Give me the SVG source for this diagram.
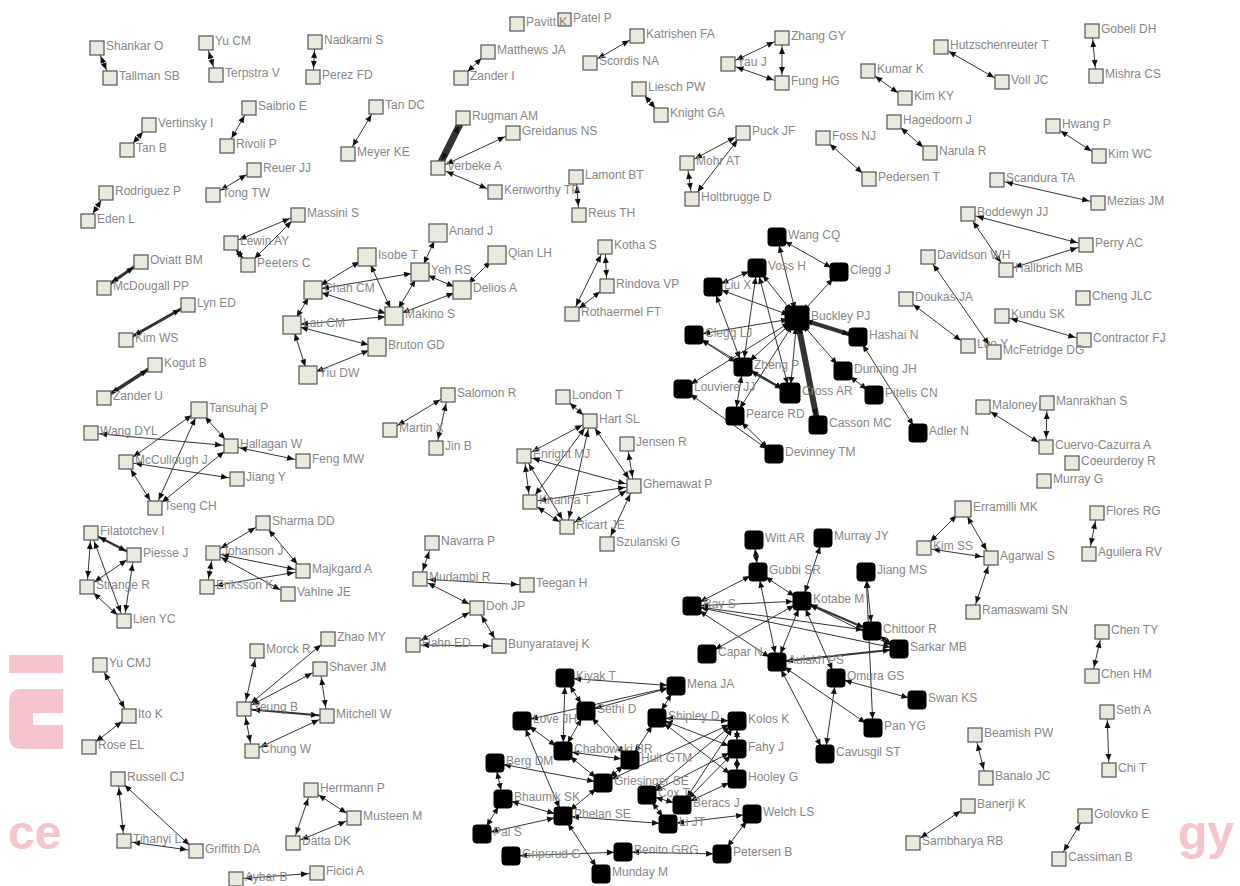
<svg xmlns="http://www.w3.org/2000/svg" width="1240" height="886" viewBox="0 0 1240 886">
<style>
.n rect{fill:#e9e9dd;stroke:#555;stroke-width:1.2}
.b rect{fill:#000;stroke:#000;stroke-width:1}
text{font-family:"Liberation Sans",Arial,sans-serif;font-size:12px;fill:#868686}
.e line{stroke:#333;stroke-width:1;marker-start:url(#ah);marker-end:url(#ah)}
.wm{fill:#f6c4cc}
.wt{font-family:"Liberation Sans",Arial,sans-serif;font-weight:bold;font-size:48px;fill:#f6c4cc}
</style>
<defs>
<marker id="ah" viewBox="0 0 20 8" refX="19" refY="4" markerWidth="20" markerHeight="8" markerUnits="userSpaceOnUse" orient="auto-start-reverse"><path d="M3,1 L10,4 L3,7 z" fill="#111"/></marker>
</defs>
<rect width="1240" height="886" fill="#fff"/>
<g id="watermark">
<rect class="wm" x="9" y="655" width="54" height="18"/>
<path class="wm" d="M63,689 H22 Q9,689 9,702 V736 Q9,749 22,749 H63 V725 H33 V713 H63 Z"/>
<text class="wt" x="8" y="849">ce</text>
<text class="wt" x="1178" y="849">gy</text>
</g>
<g id="connectors" class="e">
<line x1="97" y1="48" x2="110" y2="78" stroke-width="1.5"/>
<line x1="206" y1="43" x2="216" y2="75"/>
<line x1="315" y1="42" x2="313" y2="77"/>
<line x1="149" y1="125" x2="127" y2="150"/>
<line x1="249" y1="108" x2="227" y2="146"/>
<line x1="254" y1="170" x2="213" y2="195"/>
<line x1="106" y1="193" x2="88" y2="221"/>
<line x1="231" y1="243" x2="298" y2="215"/>
<line x1="231" y1="243" x2="248" y2="265" style="stroke-width:2"/>
<line x1="248" y1="265" x2="298" y2="215"/>
<line x1="141" y1="262" x2="104" y2="288" style="stroke-width:3"/>
<line x1="188" y1="305" x2="126" y2="340" style="stroke-width:3"/>
<line x1="155" y1="365" x2="104" y2="398" style="stroke-width:3.5"/>
<line x1="376" y1="107" x2="348" y2="154"/>
<line x1="488" y1="52" x2="461" y2="78"/>
<line x1="463" y1="118" x2="438" y2="168" style="stroke-width:7"/>
<line x1="438" y1="168" x2="513" y2="133"/>
<line x1="438" y1="168" x2="495" y2="192"/>
<line x1="576" y1="177" x2="579" y2="215"/>
<line x1="637" y1="36" x2="590" y2="63"/>
<line x1="639" y1="89" x2="661" y2="115"/>
<line x1="782" y1="38" x2="728" y2="64"/>
<line x1="782" y1="38" x2="782" y2="83"/>
<line x1="782" y1="83" x2="728" y2="64"/>
<line x1="743" y1="133" x2="687" y2="163"/>
<line x1="743" y1="133" x2="692" y2="199"/>
<line x1="687" y1="163" x2="692" y2="199"/>
<line x1="823" y1="138" x2="869" y2="179"/>
<line x1="868" y1="71" x2="905" y2="98"/>
<line x1="894" y1="122" x2="930" y2="153"/>
<line x1="941" y1="47" x2="1002" y2="82"/>
<line x1="1092" y1="31" x2="1096" y2="76"/>
<line x1="1053" y1="126" x2="1099" y2="156"/>
<line x1="997" y1="180" x2="1098" y2="203"/>
<line x1="968" y1="214" x2="1086" y2="245"/>
<line x1="1006" y1="270" x2="968" y2="214"/>
<line x1="1006" y1="270" x2="1086" y2="245"/>
<line x1="928" y1="257" x2="994" y2="352"/>
<line x1="906" y1="299" x2="968" y2="346"/>
<line x1="1002" y1="316" x2="1084" y2="340"/>
<line x1="983" y1="407" x2="1046" y2="447"/>
<line x1="1047" y1="403" x2="1046" y2="447"/>
<line x1="1097" y1="513" x2="1089" y2="554"/>
<line x1="963" y1="509" x2="924" y2="548"/>
<line x1="963" y1="509" x2="991" y2="558"/>
<line x1="924" y1="548" x2="991" y2="558"/>
<line x1="991" y1="558" x2="973" y2="612"/>
<line x1="1102" y1="632" x2="1092" y2="676"/>
<line x1="1107" y1="712" x2="1109" y2="770"/>
<line x1="975" y1="735" x2="986" y2="778"/>
<line x1="968" y1="806" x2="913" y2="843"/>
<line x1="1085" y1="816" x2="1059" y2="859"/>
<line x1="605" y1="247" x2="607" y2="286"/>
<line x1="605" y1="247" x2="572" y2="314"/>
<line x1="607" y1="286" x2="572" y2="314"/>
<line x1="448" y1="395" x2="390" y2="430"/>
<line x1="448" y1="395" x2="436" y2="448"/>
<line x1="100" y1="665" x2="129" y2="716"/>
<line x1="129" y1="716" x2="89" y2="747"/>
<line x1="118" y1="779" x2="124" y2="841"/>
<line x1="118" y1="779" x2="196" y2="851"/>
<line x1="124" y1="841" x2="196" y2="851"/>
<line x1="311" y1="790" x2="354" y2="818"/>
<line x1="311" y1="790" x2="293" y2="843"/>
<line x1="293" y1="843" x2="354" y2="818"/>
<line x1="236" y1="879" x2="317" y2="873"/>
<line x1="432" y1="543" x2="420" y2="579"/>
<line x1="420" y1="579" x2="527" y2="585"/>
<line x1="420" y1="579" x2="477" y2="608"/>
<line x1="477" y1="608" x2="413" y2="645"/>
<line x1="477" y1="608" x2="499" y2="646"/>
<line x1="413" y1="645" x2="499" y2="646"/>
<line x1="257" y1="651" x2="244" y2="709"/>
<line x1="244" y1="709" x2="328" y2="639"/>
<line x1="244" y1="709" x2="320" y2="669"/>
<line x1="244" y1="709" x2="327" y2="716" style="stroke-width:2"/>
<line x1="252" y1="751" x2="244" y2="709"/>
<line x1="252" y1="751" x2="327" y2="716"/>
<line x1="320" y1="669" x2="327" y2="716"/>
<line x1="91" y1="533" x2="134" y2="555" style="stroke-width:2.5"/>
<line x1="91" y1="533" x2="87" y2="587"/>
<line x1="91" y1="533" x2="124" y2="621"/>
<line x1="87" y1="587" x2="134" y2="555"/>
<line x1="87" y1="587" x2="124" y2="621"/>
<line x1="134" y1="555" x2="124" y2="621"/>
<line x1="263" y1="523" x2="213" y2="553"/>
<line x1="263" y1="523" x2="303" y2="571"/>
<line x1="213" y1="553" x2="303" y2="571"/>
<line x1="213" y1="553" x2="207" y2="587"/>
<line x1="207" y1="587" x2="303" y2="571"/>
<line x1="288" y1="594" x2="213" y2="553"/>
<line x1="199" y1="410" x2="126" y2="462"/>
<line x1="199" y1="410" x2="231" y2="446"/>
<line x1="199" y1="410" x2="155" y2="508"/>
<line x1="91" y1="433" x2="231" y2="446"/>
<line x1="126" y1="462" x2="155" y2="508"/>
<line x1="126" y1="462" x2="237" y2="479"/>
<line x1="231" y1="446" x2="303" y2="461"/>
<line x1="155" y1="508" x2="231" y2="446"/>
<line x1="313" y1="290" x2="367" y2="257"/>
<line x1="313" y1="290" x2="394" y2="316"/>
<line x1="313" y1="290" x2="420" y2="272"/>
<line x1="313" y1="290" x2="292" y2="325"/>
<line x1="367" y1="257" x2="394" y2="316"/>
<line x1="438" y1="233" x2="420" y2="272"/>
<line x1="420" y1="272" x2="394" y2="316"/>
<line x1="462" y1="290" x2="497" y2="255"/>
<line x1="462" y1="290" x2="420" y2="272"/>
<line x1="462" y1="290" x2="394" y2="316"/>
<line x1="292" y1="325" x2="394" y2="316"/>
<line x1="292" y1="325" x2="377" y2="347"/>
<line x1="292" y1="325" x2="308" y2="375"/>
<line x1="308" y1="375" x2="377" y2="347"/>
<line x1="563" y1="397" x2="590" y2="421"/>
<line x1="524" y1="456" x2="590" y2="421"/>
<line x1="530" y1="502" x2="590" y2="421"/>
<line x1="567" y1="527" x2="590" y2="421"/>
<line x1="634" y1="486" x2="590" y2="421"/>
<line x1="524" y1="456" x2="530" y2="502"/>
<line x1="524" y1="456" x2="567" y2="527"/>
<line x1="530" y1="502" x2="567" y2="527"/>
<line x1="524" y1="456" x2="634" y2="486"/>
<line x1="530" y1="502" x2="634" y2="486"/>
<line x1="567" y1="527" x2="634" y2="486"/>
<line x1="627" y1="444" x2="634" y2="486"/>
<line x1="607" y1="544" x2="634" y2="486"/>
<line x1="777" y1="237" x2="839" y2="272"/>
<line x1="777" y1="237" x2="797" y2="318"/>
<line x1="757" y1="268" x2="797" y2="318"/>
<line x1="757" y1="268" x2="743" y2="367"/>
<line x1="757" y1="268" x2="790" y2="393"/>
<line x1="839" y1="272" x2="797" y2="318"/>
<line x1="713" y1="287" x2="797" y2="318"/>
<line x1="713" y1="287" x2="743" y2="367"/>
<line x1="713" y1="287" x2="757" y2="268"/>
<line x1="694" y1="335" x2="797" y2="318"/>
<line x1="694" y1="335" x2="743" y2="367"/>
<line x1="694" y1="335" x2="790" y2="393"/>
<line x1="743" y1="367" x2="797" y2="318"/>
<line x1="743" y1="367" x2="790" y2="393" style="stroke-width:2"/>
<line x1="743" y1="367" x2="735" y2="416"/>
<line x1="683" y1="389" x2="797" y2="318"/>
<line x1="683" y1="389" x2="774" y2="454"/>
<line x1="790" y1="393" x2="797" y2="318"/>
<line x1="797" y1="318" x2="818" y2="425" style="stroke-width:6"/>
<line x1="858" y1="337" x2="797" y2="318" style="stroke-width:4"/>
<line x1="843" y1="371" x2="797" y2="318"/>
<line x1="735" y1="416" x2="797" y2="318"/>
<line x1="735" y1="416" x2="774" y2="454"/>
<line x1="843" y1="371" x2="874" y2="395"/>
<line x1="858" y1="337" x2="918" y2="433"/>
<line x1="754" y1="540" x2="758" y2="572"/>
<line x1="823" y1="538" x2="802" y2="601"/>
<line x1="758" y1="572" x2="802" y2="601"/>
<line x1="758" y1="572" x2="777" y2="662"/>
<line x1="758" y1="572" x2="692" y2="606"/>
<line x1="802" y1="601" x2="692" y2="606"/>
<line x1="802" y1="601" x2="872" y2="631" style="stroke-width:2"/>
<line x1="802" y1="601" x2="899" y2="649"/>
<line x1="802" y1="601" x2="777" y2="662"/>
<line x1="802" y1="601" x2="836" y2="678"/>
<line x1="692" y1="606" x2="872" y2="631"/>
<line x1="692" y1="606" x2="899" y2="649"/>
<line x1="692" y1="606" x2="777" y2="662"/>
<line x1="707" y1="654" x2="802" y2="601"/>
<line x1="866" y1="572" x2="872" y2="631"/>
<line x1="866" y1="572" x2="873" y2="728"/>
<line x1="872" y1="631" x2="899" y2="649"/>
<line x1="777" y1="662" x2="899" y2="649" style="stroke-width:2"/>
<line x1="777" y1="662" x2="825" y2="754"/>
<line x1="777" y1="662" x2="873" y2="728"/>
<line x1="836" y1="678" x2="825" y2="754"/>
<line x1="836" y1="678" x2="917" y2="700"/>
<line x1="565" y1="678" x2="676" y2="686"/>
<line x1="565" y1="678" x2="586" y2="711"/>
<line x1="565" y1="678" x2="563" y2="751"/>
<line x1="586" y1="711" x2="676" y2="686"/>
<line x1="586" y1="711" x2="563" y2="751"/>
<line x1="586" y1="711" x2="630" y2="760"/>
<line x1="522" y1="721" x2="563" y2="751"/>
<line x1="522" y1="721" x2="676" y2="686"/>
<line x1="657" y1="718" x2="676" y2="686"/>
<line x1="657" y1="718" x2="737" y2="721"/>
<line x1="657" y1="718" x2="737" y2="749"/>
<line x1="657" y1="718" x2="737" y2="779"/>
<line x1="630" y1="760" x2="563" y2="751"/>
<line x1="630" y1="760" x2="657" y2="718"/>
<line x1="495" y1="763" x2="603" y2="783"/>
<line x1="495" y1="763" x2="503" y2="799"/>
<line x1="563" y1="751" x2="603" y2="783"/>
<line x1="503" y1="799" x2="563" y2="816"/>
<line x1="503" y1="799" x2="482" y2="834"/>
<line x1="563" y1="816" x2="482" y2="834"/>
<line x1="563" y1="816" x2="601" y2="874"/>
<line x1="563" y1="816" x2="522" y2="721"/>
<line x1="563" y1="816" x2="603" y2="783"/>
<line x1="647" y1="795" x2="682" y2="805"/>
<line x1="682" y1="805" x2="737" y2="721"/>
<line x1="682" y1="805" x2="737" y2="749"/>
<line x1="682" y1="805" x2="737" y2="779"/>
<line x1="647" y1="795" x2="737" y2="721"/>
<line x1="647" y1="795" x2="737" y2="749"/>
<line x1="668" y1="824" x2="752" y2="814"/>
<line x1="668" y1="824" x2="647" y2="795"/>
<line x1="668" y1="824" x2="563" y2="816"/>
<line x1="623" y1="852" x2="722" y2="854"/>
<line x1="722" y1="854" x2="752" y2="814"/>
<line x1="511" y1="856" x2="623" y2="852"/>
<line x1="737" y1="749" x2="737" y2="721"/>
<line x1="737" y1="749" x2="737" y2="779"/>
<line x1="603" y1="783" x2="630" y2="760"/>
<line x1="603" y1="783" x2="737" y2="721"/>
</g>
<g id="nodes">
<g id="n-shankar" class="n"><rect x="90" y="41" width="14" height="14"/><text x="106" y="50">Shankar O</text></g>
<g id="n-tallman" class="n"><rect x="103" y="71" width="14" height="14"/><text x="119" y="80">Tallman SB</text></g>
<g id="n-yucm" class="n"><rect x="199" y="36" width="14" height="14"/><text x="215" y="45">Yu CM</text></g>
<g id="n-terpstra" class="n"><rect x="209" y="68" width="14" height="14"/><text x="225" y="77">Terpstra V</text></g>
<g id="n-nadkarni" class="n"><rect x="308" y="35" width="14" height="14"/><text x="324" y="44">Nadkarni S</text></g>
<g id="n-perez" class="n"><rect x="306" y="70" width="14" height="14"/><text x="322" y="79">Perez FD</text></g>
<g id="n-vertinsky" class="n"><rect x="142" y="118" width="14" height="14"/><text x="158" y="127">Vertinsky I</text></g>
<g id="n-tanb" class="n"><rect x="120" y="143" width="14" height="14"/><text x="136" y="152">Tan B</text></g>
<g id="n-saibrio" class="n"><rect x="242" y="101" width="14" height="14"/><text x="258" y="110">Saibrio E</text></g>
<g id="n-rivoli" class="n"><rect x="220" y="139" width="14" height="14"/><text x="236" y="148">Rivoli P</text></g>
<g id="n-reuer" class="n"><rect x="247" y="163" width="14" height="14"/><text x="263" y="172">Reuer JJ</text></g>
<g id="n-tong" class="n"><rect x="206" y="188" width="14" height="14"/><text x="222" y="197">Tong TW</text></g>
<g id="n-rodriguez" class="n"><rect x="99" y="186" width="14" height="14"/><text x="115" y="195">Rodriguez P</text></g>
<g id="n-eden" class="n"><rect x="81" y="214" width="14" height="14"/><text x="97" y="223">Eden L</text></g>
<g id="n-massini" class="n"><rect x="291" y="208" width="14" height="14"/><text x="307" y="217">Massini S</text></g>
<g id="n-lewin" class="n"><rect x="224" y="236" width="14" height="14"/><text x="240" y="245">Lewin AY</text></g>
<g id="n-peeters" class="n"><rect x="241" y="258" width="14" height="14"/><text x="257" y="267">Peeters C</text></g>
<g id="n-oviatt" class="n"><rect x="134" y="255" width="14" height="14"/><text x="150" y="264">Oviatt BM</text></g>
<g id="n-mcdougall" class="n"><rect x="97" y="281" width="14" height="14"/><text x="113" y="290">McDougall PP</text></g>
<g id="n-lyn" class="n"><rect x="181" y="298" width="14" height="14"/><text x="197" y="307">Lyn ED</text></g>
<g id="n-kimws" class="n"><rect x="119" y="333" width="14" height="14"/><text x="135" y="342">Kim WS</text></g>
<g id="n-kogut" class="n"><rect x="148" y="358" width="14" height="14"/><text x="164" y="367">Kogut B</text></g>
<g id="n-zanderu" class="n"><rect x="97" y="391" width="14" height="14"/><text x="113" y="400">Zander U</text></g>
<g id="n-tansuhaj" class="n"><rect x="191" y="402" width="16" height="16"/><text x="209" y="412">Tansuhaj P</text></g>
<g id="n-wangdyl" class="n"><rect x="84" y="426" width="14" height="14"/><text x="100" y="435">Wang DYL</text></g>
<g id="n-hallagan" class="n"><rect x="224" y="439" width="14" height="14"/><text x="240" y="448">Hallagan W</text></g>
<g id="n-feng" class="n"><rect x="296" y="454" width="14" height="14"/><text x="312" y="463">Feng MW</text></g>
<g id="n-mccullough" class="n"><rect x="119" y="455" width="14" height="14"/><text x="135" y="464">McCullough J</text></g>
<g id="n-jiangy" class="n"><rect x="230" y="472" width="14" height="14"/><text x="246" y="481">Jiang Y</text></g>
<g id="n-tseng" class="n"><rect x="148" y="501" width="14" height="14"/><text x="164" y="510">Tseng CH</text></g>
<g id="n-filatotchev" class="n"><rect x="84" y="526" width="14" height="14"/><text x="100" y="535">Filatotchev I</text></g>
<g id="n-piesse" class="n"><rect x="127" y="548" width="14" height="14"/><text x="143" y="557">Piesse J</text></g>
<g id="n-strange" class="n"><rect x="80" y="580" width="14" height="14"/><text x="96" y="589">Strange R</text></g>
<g id="n-lien" class="n"><rect x="117" y="614" width="14" height="14"/><text x="133" y="623">Lien YC</text></g>
<g id="n-sharma" class="n"><rect x="256" y="516" width="14" height="14"/><text x="272" y="525">Sharma DD</text></g>
<g id="n-johanson" class="n"><rect x="206" y="546" width="14" height="14"/><text x="222" y="555">Johanson J</text></g>
<g id="n-majkgard" class="n"><rect x="296" y="564" width="14" height="14"/><text x="312" y="573">Majkgard A</text></g>
<g id="n-eriksson" class="n"><rect x="200" y="580" width="14" height="14"/><text x="216" y="589">Eriksson K</text></g>
<g id="n-vahlne" class="n"><rect x="281" y="587" width="14" height="14"/><text x="297" y="596">Vahlne JE</text></g>
<g id="n-yucmj" class="n"><rect x="93" y="658" width="14" height="14"/><text x="109" y="667">Yu CMJ</text></g>
<g id="n-itok" class="n"><rect x="122" y="709" width="14" height="14"/><text x="138" y="718">Ito K</text></g>
<g id="n-rose" class="n"><rect x="82" y="740" width="14" height="14"/><text x="98" y="749">Rose EL</text></g>
<g id="n-russell" class="n"><rect x="111" y="772" width="14" height="14"/><text x="127" y="781">Russell CJ</text></g>
<g id="n-tihanyi" class="n"><rect x="117" y="834" width="14" height="14"/><text x="133" y="843">Tihanyi L</text></g>
<g id="n-griffith" class="n"><rect x="189" y="844" width="14" height="14"/><text x="205" y="853">Griffith DA</text></g>
<g id="n-morck" class="n"><rect x="250" y="644" width="14" height="14"/><text x="266" y="653">Morck R</text></g>
<g id="n-yeung" class="n"><rect x="237" y="702" width="14" height="14"/><text x="253" y="711">Yeung B</text></g>
<g id="n-chungw" class="n"><rect x="245" y="744" width="14" height="14"/><text x="261" y="753">Chung W</text></g>
<g id="n-zhao" class="n"><rect x="321" y="632" width="14" height="14"/><text x="337" y="641">Zhao MY</text></g>
<g id="n-shaver" class="n"><rect x="313" y="662" width="14" height="14"/><text x="329" y="671">Shaver JM</text></g>
<g id="n-mitchell" class="n"><rect x="320" y="709" width="14" height="14"/><text x="336" y="718">Mitchell W</text></g>
<g id="n-herrmann" class="n"><rect x="304" y="783" width="14" height="14"/><text x="320" y="792">Herrmann P</text></g>
<g id="n-musteen" class="n"><rect x="347" y="811" width="14" height="14"/><text x="363" y="820">Musteen M</text></g>
<g id="n-datta" class="n"><rect x="286" y="836" width="14" height="14"/><text x="302" y="845">Datta DK</text></g>
<g id="n-ficici" class="n"><rect x="310" y="866" width="14" height="14"/><text x="326" y="875">Ficici A</text></g>
<g id="n-aybar" class="n"><rect x="229" y="872" width="14" height="14"/><text x="245" y="881">Aybar B</text></g>
<g id="n-tandc" class="n"><rect x="369" y="100" width="14" height="14"/><text x="385" y="109">Tan DC</text></g>
<g id="n-meyer" class="n"><rect x="341" y="147" width="14" height="14"/><text x="357" y="156">Meyer KE</text></g>
<g id="n-rugman" class="n"><rect x="456" y="111" width="14" height="14"/><text x="472" y="120">Rugman AM</text></g>
<g id="n-greidanus" class="n"><rect x="506" y="126" width="14" height="14"/><text x="522" y="135">Greidanus NS</text></g>
<g id="n-verbeke" class="n"><rect x="431" y="161" width="14" height="14"/><text x="447" y="170">Verbeke A</text></g>
<g id="n-kenworthy" class="n"><rect x="488" y="185" width="14" height="14"/><text x="504" y="194">Kenworthy TP</text></g>
<g id="n-patel" class="n"><rect x="558" y="13" width="13" height="13"/><text x="573" y="22">Patel P</text></g>
<g id="n-pavitt" class="n"><rect x="510" y="17" width="14" height="14"/><text x="526" y="26">Pavitt K</text></g>
<g id="n-matthews" class="n"><rect x="481" y="45" width="14" height="14"/><text x="497" y="54">Matthews JA</text></g>
<g id="n-zanderi" class="n"><rect x="454" y="71" width="14" height="14"/><text x="470" y="80">Zander I</text></g>
<g id="n-scordis" class="n"><rect x="583" y="56" width="14" height="14"/><text x="599" y="65">Scordis NA</text></g>
<g id="n-katrishen" class="n"><rect x="630" y="29" width="14" height="14"/><text x="646" y="38">Katrishen FA</text></g>
<g id="n-liesch" class="n"><rect x="632" y="82" width="14" height="14"/><text x="648" y="91">Liesch PW</text></g>
<g id="n-knight" class="n"><rect x="654" y="108" width="14" height="14"/><text x="670" y="117">Knight GA</text></g>
<g id="n-lamont" class="n"><rect x="569" y="170" width="14" height="14"/><text x="585" y="179">Lamont BT</text></g>
<g id="n-reus" class="n"><rect x="572" y="208" width="14" height="14"/><text x="588" y="217">Reus TH</text></g>
<g id="n-zhang" class="n"><rect x="775" y="31" width="14" height="14"/><text x="791" y="40">Zhang GY</text></g>
<g id="n-yau" class="n"><rect x="721" y="57" width="14" height="14"/><text x="737" y="66">Yau J</text></g>
<g id="n-fung" class="n"><rect x="775" y="76" width="14" height="14"/><text x="791" y="85">Fung HG</text></g>
<g id="n-puck" class="n"><rect x="736" y="126" width="14" height="14"/><text x="752" y="135">Puck JF</text></g>
<g id="n-mohr" class="n"><rect x="680" y="156" width="14" height="14"/><text x="696" y="165">Mohr AT</text></g>
<g id="n-holt" class="n"><rect x="685" y="192" width="14" height="14"/><text x="701" y="201">Holtbrugge D</text></g>
<g id="n-foss" class="n"><rect x="816" y="131" width="14" height="14"/><text x="832" y="140">Foss NJ</text></g>
<g id="n-pedersen" class="n"><rect x="862" y="172" width="14" height="14"/><text x="878" y="181">Pedersen T</text></g>
<g id="n-kumar" class="n"><rect x="861" y="64" width="14" height="14"/><text x="877" y="73">Kumar K</text></g>
<g id="n-kimky" class="n"><rect x="898" y="91" width="14" height="14"/><text x="914" y="100">Kim KY</text></g>
<g id="n-hagedoorn" class="n"><rect x="887" y="115" width="14" height="14"/><text x="903" y="124">Hagedoorn J</text></g>
<g id="n-narula" class="n"><rect x="923" y="146" width="14" height="14"/><text x="939" y="155">Narula R</text></g>
<g id="n-hutz" class="n"><rect x="934" y="40" width="14" height="14"/><text x="950" y="49">Hutzschenreuter T</text></g>
<g id="n-voll" class="n"><rect x="995" y="75" width="14" height="14"/><text x="1011" y="84">Voll JC</text></g>
<g id="n-gobeli" class="n"><rect x="1085" y="24" width="14" height="14"/><text x="1101" y="33">Gobeli DH</text></g>
<g id="n-mishra" class="n"><rect x="1089" y="69" width="14" height="14"/><text x="1105" y="78">Mishra CS</text></g>
<g id="n-hwang" class="n"><rect x="1046" y="119" width="14" height="14"/><text x="1062" y="128">Hwang P</text></g>
<g id="n-kimwc" class="n"><rect x="1092" y="149" width="14" height="14"/><text x="1108" y="158">Kim WC</text></g>
<g id="n-scandura" class="n"><rect x="990" y="173" width="14" height="14"/><text x="1006" y="182">Scandura TA</text></g>
<g id="n-mezias" class="n"><rect x="1091" y="196" width="14" height="14"/><text x="1107" y="205">Mezias JM</text></g>
<g id="n-boddewyn" class="n"><rect x="961" y="207" width="14" height="14"/><text x="977" y="216">Boddewyn JJ</text></g>
<g id="n-perry" class="n"><rect x="1079" y="238" width="14" height="14"/><text x="1095" y="247">Perry AC</text></g>
<g id="n-davidson" class="n"><rect x="921" y="250" width="14" height="14"/><text x="937" y="259">Davidson WH</text></g>
<g id="n-hallbrich" class="n"><rect x="999" y="263" width="14" height="14"/><text x="1015" y="272">Hallbrich MB</text></g>
<g id="n-doukas" class="n"><rect x="899" y="292" width="14" height="14"/><text x="915" y="301">Doukas JA</text></g>
<g id="n-chengjlc" class="n"><rect x="1076" y="291" width="14" height="14"/><text x="1092" y="300">Cheng JLC</text></g>
<g id="n-kundu" class="n"><rect x="995" y="309" width="14" height="14"/><text x="1011" y="318">Kundu SK</text></g>
<g id="n-contractor" class="n"><rect x="1077" y="333" width="14" height="14"/><text x="1093" y="342">Contractor FJ</text></g>
<g id="n-luo" class="n"><rect x="961" y="339" width="14" height="14"/><text x="977" y="348">Luo Y</text></g>
<g id="n-mcfetridge" class="n"><rect x="987" y="345" width="14" height="14"/><text x="1003" y="354">McFetridge DG</text></g>
<g id="n-maloney" class="n"><rect x="976" y="400" width="14" height="14"/><text x="992" y="409">Maloney M</text></g>
<g id="n-manrakhan" class="n"><rect x="1040" y="396" width="14" height="14"/><text x="1056" y="405">Manrakhan S</text></g>
<g id="n-cuervo" class="n"><rect x="1039" y="440" width="14" height="14"/><text x="1055" y="449">Cuervo-Cazurra A</text></g>
<g id="n-coeurderoy" class="n"><rect x="1065" y="456" width="14" height="14"/><text x="1081" y="465">Coeurderoy R</text></g>
<g id="n-murrayg" class="n"><rect x="1037" y="474" width="14" height="14"/><text x="1053" y="483">Murray G</text></g>
<g id="n-erramilli" class="n"><rect x="955" y="501" width="16" height="16"/><text x="973" y="511">Erramilli MK</text></g>
<g id="n-kimss" class="n"><rect x="917" y="541" width="14" height="14"/><text x="933" y="550">Kim SS</text></g>
<g id="n-agarwal" class="n"><rect x="984" y="551" width="14" height="14"/><text x="1000" y="560">Agarwal S</text></g>
<g id="n-ramaswami" class="n"><rect x="966" y="605" width="14" height="14"/><text x="982" y="614">Ramaswami SN</text></g>
<g id="n-flores" class="n"><rect x="1090" y="506" width="14" height="14"/><text x="1106" y="515">Flores RG</text></g>
<g id="n-aguilera" class="n"><rect x="1082" y="547" width="14" height="14"/><text x="1098" y="556">Aguilera RV</text></g>
<g id="n-chenty" class="n"><rect x="1095" y="625" width="14" height="14"/><text x="1111" y="634">Chen TY</text></g>
<g id="n-chenhm" class="n"><rect x="1085" y="669" width="14" height="14"/><text x="1101" y="678">Chen HM</text></g>
<g id="n-setha" class="n"><rect x="1100" y="705" width="14" height="14"/><text x="1116" y="714">Seth A</text></g>
<g id="n-chit" class="n"><rect x="1102" y="763" width="14" height="14"/><text x="1118" y="772">Chi T</text></g>
<g id="n-beamish" class="n"><rect x="968" y="728" width="14" height="14"/><text x="984" y="737">Beamish PW</text></g>
<g id="n-bannko" class="n"><rect x="979" y="771" width="14" height="14"/><text x="995" y="780">Banalo JC</text></g>
<g id="n-banerji" class="n"><rect x="961" y="799" width="14" height="14"/><text x="977" y="808">Banerji K</text></g>
<g id="n-sambharya" class="n"><rect x="906" y="836" width="14" height="14"/><text x="922" y="845">Sambharya RB</text></g>
<g id="n-golovko" class="n"><rect x="1078" y="809" width="14" height="14"/><text x="1094" y="818">Golovko E</text></g>
<g id="n-cassiman" class="n"><rect x="1052" y="852" width="14" height="14"/><text x="1068" y="861">Cassiman B</text></g>
<g id="n-kotha" class="n"><rect x="598" y="240" width="14" height="14"/><text x="614" y="249">Kotha S</text></g>
<g id="n-rindova" class="n"><rect x="600" y="279" width="14" height="14"/><text x="616" y="288">Rindova VP</text></g>
<g id="n-rothaermel" class="n"><rect x="565" y="307" width="14" height="14"/><text x="581" y="316">Rothaermel FT</text></g>
<g id="n-salomon" class="n"><rect x="441" y="388" width="14" height="14"/><text x="457" y="397">Salomon R</text></g>
<g id="n-martin" class="n"><rect x="383" y="423" width="14" height="14"/><text x="399" y="432">Martin X</text></g>
<g id="n-jinb" class="n"><rect x="429" y="441" width="14" height="14"/><text x="445" y="450">Jin B</text></g>
<g id="n-london" class="n"><rect x="556" y="390" width="14" height="14"/><text x="572" y="399">London T</text></g>
<g id="n-hart" class="n"><rect x="583" y="414" width="14" height="14"/><text x="599" y="423">Hart SL</text></g>
<g id="n-jensen" class="n"><rect x="620" y="437" width="14" height="14"/><text x="636" y="446">Jensen R</text></g>
<g id="n-enright" class="n"><rect x="517" y="449" width="14" height="14"/><text x="533" y="458">Enright MJ</text></g>
<g id="n-ghemawat" class="n"><rect x="627" y="479" width="14" height="14"/><text x="643" y="488">Ghemawat P</text></g>
<g id="n-khanna" class="n"><rect x="523" y="495" width="14" height="14"/><text x="539" y="504">Khanna T</text></g>
<g id="n-ricart" class="n"><rect x="560" y="520" width="14" height="14"/><text x="576" y="529">Ricart JE</text></g>
<g id="n-szulanski" class="n"><rect x="600" y="537" width="14" height="14"/><text x="616" y="546">Szulanski G</text></g>
<g id="n-navarra" class="n"><rect x="425" y="536" width="14" height="14"/><text x="441" y="545">Navarra P</text></g>
<g id="n-mudambi" class="n"><rect x="413" y="572" width="14" height="14"/><text x="429" y="581">Mudambi R</text></g>
<g id="n-teegan" class="n"><rect x="520" y="578" width="14" height="14"/><text x="536" y="587">Teegan H</text></g>
<g id="n-doh" class="n"><rect x="470" y="601" width="14" height="14"/><text x="486" y="610">Doh JP</text></g>
<g id="n-hahn" class="n"><rect x="406" y="638" width="14" height="14"/><text x="422" y="647">Hahn ED</text></g>
<g id="n-bunyar" class="n"><rect x="492" y="639" width="14" height="14"/><text x="508" y="648">Bunyaratavej K</text></g>
<g id="n-anand" class="n"><rect x="429" y="224" width="18" height="18"/><text x="449" y="235">Anand J</text></g>
<g id="n-isobe" class="n"><rect x="358" y="248" width="18" height="18"/><text x="378" y="259">Isobe T</text></g>
<g id="n-yeh" class="n"><rect x="411" y="263" width="18" height="18"/><text x="431" y="274">Yeh RS</text></g>
<g id="n-qian" class="n"><rect x="488" y="246" width="18" height="18"/><text x="508" y="257">Qian LH</text></g>
<g id="n-delios" class="n"><rect x="453" y="281" width="18" height="18"/><text x="473" y="292">Delios A</text></g>
<g id="n-chan" class="n"><rect x="304" y="281" width="18" height="18"/><text x="324" y="292">Chan CM</text></g>
<g id="n-lau" class="n"><rect x="283" y="316" width="18" height="18"/><text x="303" y="327">Lau CM</text></g>
<g id="n-makino" class="n"><rect x="385" y="307" width="18" height="18"/><text x="405" y="318">Makino S</text></g>
<g id="n-bruton" class="n"><rect x="368" y="338" width="18" height="18"/><text x="388" y="349">Bruton GD</text></g>
<g id="n-yiu" class="n"><rect x="299" y="366" width="18" height="18"/><text x="319" y="377">Yiu DW</text></g>
<g id="n-wangcq" class="b"><rect x="768" y="228" width="18" height="18" rx="3"/><text x="788" y="239">Wang CQ</text></g>
<g id="n-voss" class="b"><rect x="748" y="259" width="18" height="18" rx="3"/><text x="768" y="270">Voss H</text></g>
<g id="n-cleggj" class="b"><rect x="830" y="263" width="18" height="18" rx="3"/><text x="850" y="274">Clegg J</text></g>
<g id="n-liux" class="b"><rect x="704" y="278" width="18" height="18" rx="3"/><text x="724" y="289">Liu X</text></g>
<g id="n-buckley" class="b"><rect x="785" y="306" width="24" height="24" rx="3"/><text x="811" y="320">Buckley PJ</text></g>
<g id="n-hashai" class="b"><rect x="849" y="328" width="18" height="18" rx="3"/><text x="869" y="339">Hashai N</text></g>
<g id="n-clegglj" class="b"><rect x="685" y="326" width="18" height="18" rx="3"/><text x="705" y="337">Clegg LJ</text></g>
<g id="n-zheng" class="b"><rect x="734" y="358" width="18" height="18" rx="3"/><text x="754" y="369">Zheng P</text></g>
<g id="n-dunning" class="b"><rect x="834" y="362" width="18" height="18" rx="3"/><text x="854" y="373">Dunning JH</text></g>
<g id="n-louviere" class="b"><rect x="674" y="380" width="18" height="18" rx="3"/><text x="694" y="391">Louviere JJ</text></g>
<g id="n-cross" class="b"><rect x="780" y="383" width="20" height="20" rx="3"/><text x="802" y="395">Cross AR</text></g>
<g id="n-pitelis" class="b"><rect x="865" y="386" width="18" height="18" rx="3"/><text x="885" y="397">Pitelis CN</text></g>
<g id="n-pearce" class="b"><rect x="726" y="407" width="18" height="18" rx="3"/><text x="746" y="418">Pearce RD</text></g>
<g id="n-casson" class="b"><rect x="809" y="416" width="18" height="18" rx="3"/><text x="829" y="427">Casson MC</text></g>
<g id="n-devinney" class="b"><rect x="765" y="445" width="18" height="18" rx="3"/><text x="785" y="456">Devinney TM</text></g>
<g id="n-adler" class="b"><rect x="909" y="424" width="18" height="18" rx="3"/><text x="929" y="435">Adler N</text></g>
<g id="n-witt" class="b"><rect x="745" y="531" width="18" height="18" rx="3"/><text x="765" y="542">Witt AR</text></g>
<g id="n-murrayjy" class="b"><rect x="814" y="529" width="18" height="18" rx="3"/><text x="834" y="540">Murray JY</text></g>
<g id="n-gubbi" class="b"><rect x="749" y="563" width="18" height="18" rx="3"/><text x="769" y="574">Gubbi SR</text></g>
<g id="n-jiangms" class="b"><rect x="857" y="563" width="18" height="18" rx="3"/><text x="877" y="574">Jiang MS</text></g>
<g id="n-ray" class="b"><rect x="683" y="597" width="18" height="18" rx="3"/><text x="703" y="608">Ray S</text></g>
<g id="n-kotabe" class="b"><rect x="793" y="592" width="18" height="18" rx="3"/><text x="813" y="603">Kotabe M</text></g>
<g id="n-chittoor" class="b"><rect x="863" y="622" width="18" height="18" rx="3"/><text x="883" y="633">Chittoor R</text></g>
<g id="n-sarkar" class="b"><rect x="890" y="640" width="18" height="18" rx="3"/><text x="910" y="651">Sarkar MB</text></g>
<g id="n-capar" class="b"><rect x="698" y="645" width="18" height="18" rx="3"/><text x="718" y="656">Capar N</text></g>
<g id="n-aulakh" class="b"><rect x="768" y="653" width="18" height="18" rx="3"/><text x="788" y="664">Aulakh PS</text></g>
<g id="n-omura" class="b"><rect x="827" y="669" width="18" height="18" rx="3"/><text x="847" y="680">Omura GS</text></g>
<g id="n-swan" class="b"><rect x="908" y="691" width="18" height="18" rx="3"/><text x="928" y="702">Swan KS</text></g>
<g id="n-pan" class="b"><rect x="864" y="719" width="18" height="18" rx="3"/><text x="884" y="730">Pan YG</text></g>
<g id="n-cavusgil" class="b"><rect x="816" y="745" width="18" height="18" rx="3"/><text x="836" y="756">Cavusgil ST</text></g>
<g id="n-mena" class="b"><rect x="667" y="677" width="18" height="18" rx="3"/><text x="687" y="688">Mena JA</text></g>
<g id="n-kiyak" class="b"><rect x="556" y="669" width="18" height="18" rx="3"/><text x="576" y="680">Kiyak T</text></g>
<g id="n-sethi" class="b"><rect x="577" y="702" width="18" height="18" rx="3"/><text x="597" y="713">Sethi D</text></g>
<g id="n-love" class="b"><rect x="513" y="712" width="18" height="18" rx="3"/><text x="533" y="723">Love JH</text></g>
<g id="n-shipley" class="b"><rect x="648" y="709" width="18" height="18" rx="3"/><text x="668" y="720">Shipley D</text></g>
<g id="n-kolos" class="b"><rect x="728" y="712" width="18" height="18" rx="3"/><text x="748" y="723">Kolos K</text></g>
<g id="n-fahy" class="b"><rect x="728" y="740" width="18" height="18" rx="3"/><text x="748" y="751">Fahy J</text></g>
<g id="n-chabowski" class="b"><rect x="554" y="742" width="18" height="18" rx="3"/><text x="574" y="753">Chabowski BR</text></g>
<g id="n-hult" class="b"><rect x="621" y="751" width="18" height="18" rx="3"/><text x="641" y="762">Hult GTM</text></g>
<g id="n-hooley" class="b"><rect x="728" y="770" width="18" height="18" rx="3"/><text x="748" y="781">Hooley G</text></g>
<g id="n-berg" class="b"><rect x="486" y="754" width="18" height="18" rx="3"/><text x="506" y="765">Berg DM</text></g>
<g id="n-griesinger" class="b"><rect x="594" y="774" width="18" height="18" rx="3"/><text x="614" y="785">Griesinger SE</text></g>
<g id="n-bhaumik" class="b"><rect x="494" y="790" width="18" height="18" rx="3"/><text x="514" y="801">Bhaumik SK</text></g>
<g id="n-phelan" class="b"><rect x="554" y="807" width="18" height="18" rx="3"/><text x="574" y="818">Phelan SE</text></g>
<g id="n-cox" class="b"><rect x="638" y="786" width="18" height="18" rx="3"/><text x="658" y="797">Cox T</text></g>
<g id="n-beracs" class="b"><rect x="673" y="796" width="18" height="18" rx="3"/><text x="693" y="807">Beracs J</text></g>
<g id="n-lijt" class="b"><rect x="659" y="815" width="18" height="18" rx="3"/><text x="679" y="826">Li JT</text></g>
<g id="n-welch" class="b"><rect x="743" y="805" width="18" height="18" rx="3"/><text x="763" y="816">Welch LS</text></g>
<g id="n-pal" class="b"><rect x="473" y="825" width="18" height="18" rx="3"/><text x="493" y="836">Pal S</text></g>
<g id="n-gripsrud" class="b"><rect x="502" y="847" width="18" height="18" rx="3"/><text x="522" y="858">Gripsrud G</text></g>
<g id="n-benito" class="b"><rect x="614" y="843" width="18" height="18" rx="3"/><text x="634" y="854">Benito GRG</text></g>
<g id="n-petersen" class="b"><rect x="713" y="845" width="18" height="18" rx="3"/><text x="733" y="856">Petersen B</text></g>
<g id="n-munday" class="b"><rect x="592" y="865" width="18" height="18" rx="3"/><text x="612" y="876">Munday M</text></g>
</g>
</svg>
